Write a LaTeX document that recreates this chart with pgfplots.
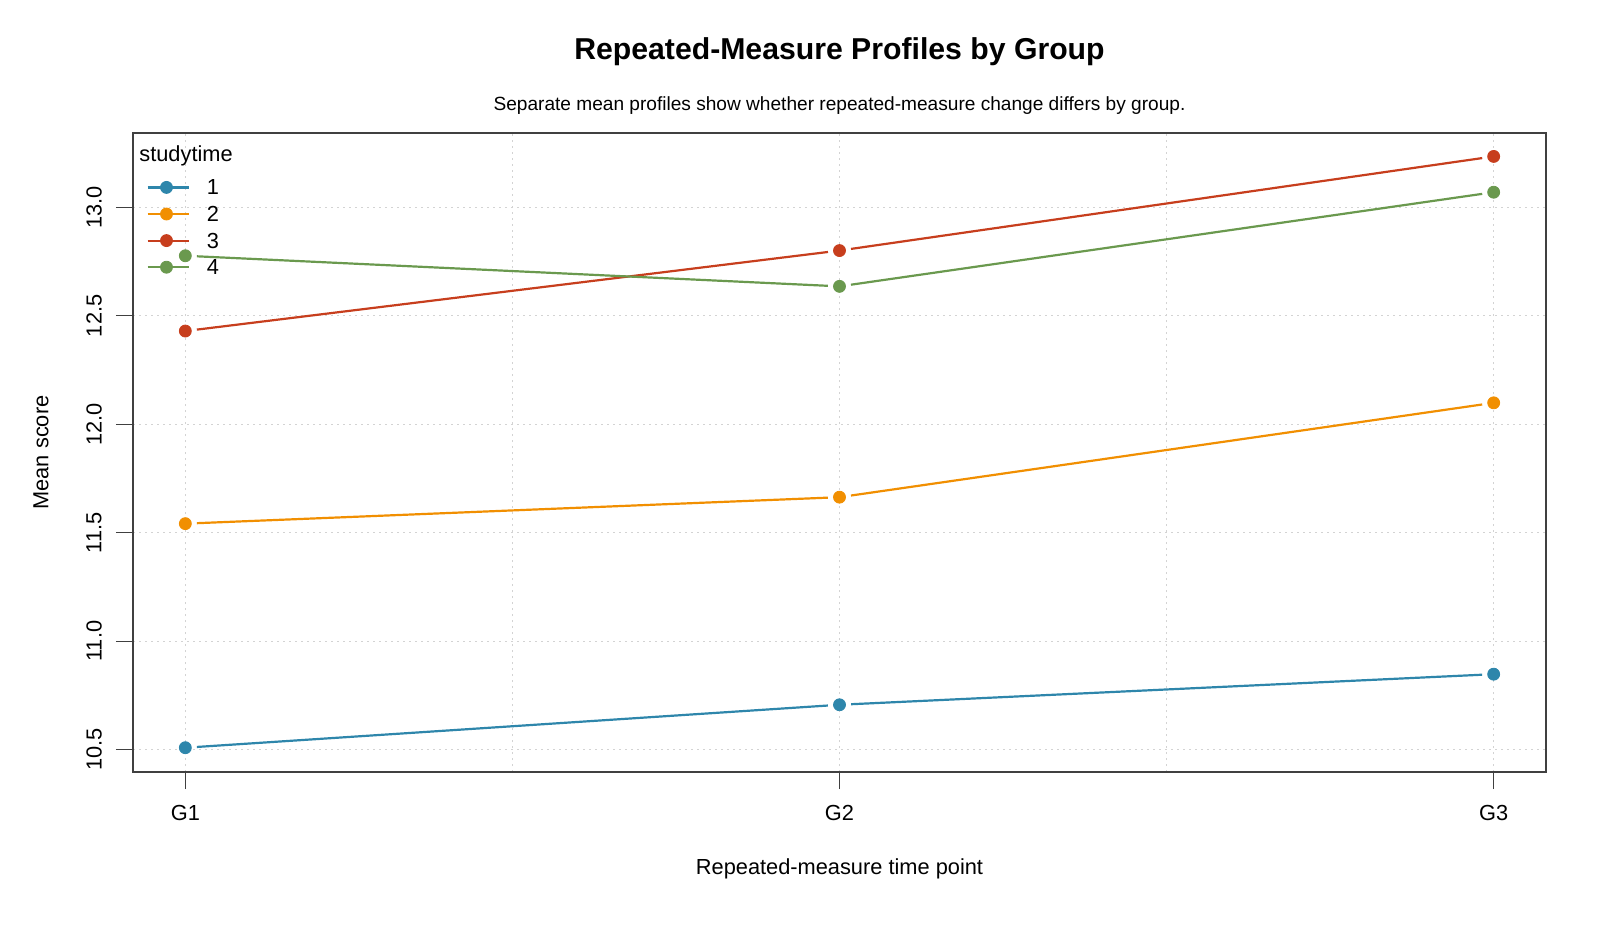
\documentclass[border=0pt]{standalone}
\usepackage{fontspec}
\setmainfont{Liberation Sans}
\usepackage{pgfplots}
\usepackage{pgfplotstable}
\pgfplotsset{compat=1.18}

\definecolor{stA}{HTML}{2E86AB}
\definecolor{stB}{HTML}{F18F01}
\definecolor{stC}{HTML}{C73E1D}
\definecolor{stD}{HTML}{6A994E}
\definecolor{gridgray}{RGB}{211,211,211}

% mean score per time point, one table per studytime group
\pgfplotstableread{
x y
1 10.509
2 10.707
3 10.848
}\grpA
\pgfplotstableread{
x y
1 11.542
2 11.664
3 12.099
}\grpB
\pgfplotstableread{
x y
1 12.430
2 12.801
3 13.235
}\grpC
\pgfplotstableread{
x y
1 12.777
2 12.636
3 13.070
}\grpD

\newcommand{\axisfont}{\fontsize{10.9}{13}\selectfont}

\begin{document}
\begin{tikzpicture}[x=1pt,y=1pt]
\useasboundingbox (0,0) rectangle (800,466.5);
\begin{axis}[
  at={(66.5pt,80.5pt)}, anchor=south west,
  scale only axis, width=706.5pt, height=319.5pt,
  xmin=0.92, xmax=3.08, ymin=10.397, ymax=13.343,
  xtick={1,2,3}, xticklabels={G1,G2,G3},
  minor xtick={1.5,2.5},
  ytick={10.5,11,11.5,12,12.5,13},
  yticklabel={\pgfmathprintnumber[fixed,fixed zerofill,precision=1]{\tick}},
  /pgf/number format/assume math mode=true,
  tick pos=left, tick align=outside,
  major tick length=8.5pt, minor tick length=0pt,
  every tick/.style={black!75, line width=0.6pt},
  axis line style={black!75, line width=0.8pt},
  xmajorgrids, ymajorgrids, xminorgrids,
  grid style={gridgray, line width=0.6pt, dash pattern=on 1pt off 2pt},
  minor grid style={gridgray, line width=0.6pt, dash pattern=on 1pt off 2pt},
  ticklabel style={font=\axisfont},
  xticklabel style={anchor=center, yshift=-12pt},
  yticklabel style={rotate=90, anchor=center, yshift=11pt},
  xlabel={Repeated-measure time point},
  ylabel={Mean score},
  every axis x label/.style={at={(axis description cs:0.5,0)}, anchor=center, yshift=-48.5pt, font=\axisfont},
  every axis y label/.style={at={(axis description cs:0,0.5)}, anchor=center, rotate=90, yshift=46pt, font=\axisfont},
  legend image code/.code={
    \draw[line width=1.1pt] (0pt,0pt) -- (20.5pt,0pt);
    \fill (9.5pt,0pt) circle (3pt);
  },
  legend style={at={(axis description cs:0,1)}, anchor=north west,
    xshift=6.5pt, yshift=-23.25pt, draw=none, fill=none, inner sep=0pt,
    row sep=5.8pt, font=\axisfont,
    nodes={inner sep=0pt, text height=7.5pt, text depth=0pt},
    cells={anchor=west},
    /tikz/every odd column/.append style={column sep=8.6pt}},
  legend cell align=left,
  clip=false,
]
% connecting segments, stopped short of each point
\pgfplotsset{seg/.style={line width=1.1pt, shorten <=5.8pt, shorten >=5.8pt, forget plot}}
\addplot[seg, stA] table[restrict x to domain=1:2] {\grpA};
\addplot[seg, stA] table[restrict x to domain=2:3] {\grpA};
\addplot[seg, stB] table[restrict x to domain=1:2] {\grpB};
\addplot[seg, stB] table[restrict x to domain=2:3] {\grpB};
\addplot[seg, stC] table[restrict x to domain=1:2] {\grpC};
\addplot[seg, stC] table[restrict x to domain=2:3] {\grpC};
\addplot[seg, stD] table[restrict x to domain=1:2] {\grpD};
\addplot[seg, stD] table[restrict x to domain=2:3] {\grpD};
% points
\addplot[stA, only marks, mark=*, mark size=3pt] table {\grpA};
\addlegendentry{1}
\addplot[stB, only marks, mark=*, mark size=3pt] table {\grpB};
\addlegendentry{2}
\addplot[stC, only marks, mark=*, mark size=3pt] table {\grpC};
\addlegendentry{3}
\addplot[stD, only marks, mark=*, mark size=3pt] table {\grpD};
\addlegendentry{4}
\node[anchor=west, font=\axisfont, inner sep=0pt] at ([xshift=3pt,yshift=-11.5pt]axis description cs:0,1) {studytime};
\node[anchor=center, font=\fontsize{15.1}{18}\selectfont\bfseries, inner sep=0pt] at ([yshift=40.5pt]axis description cs:0.5,1) {Repeated-Measure Profiles by Group};
\node[anchor=center, font=\fontsize{9.55}{11}\selectfont, inner sep=0pt] at ([yshift=13.5pt]axis description cs:0.5,1) {Separate mean profiles show whether repeated-measure change differs by group.};
\end{axis}
\end{tikzpicture}
\end{document}
